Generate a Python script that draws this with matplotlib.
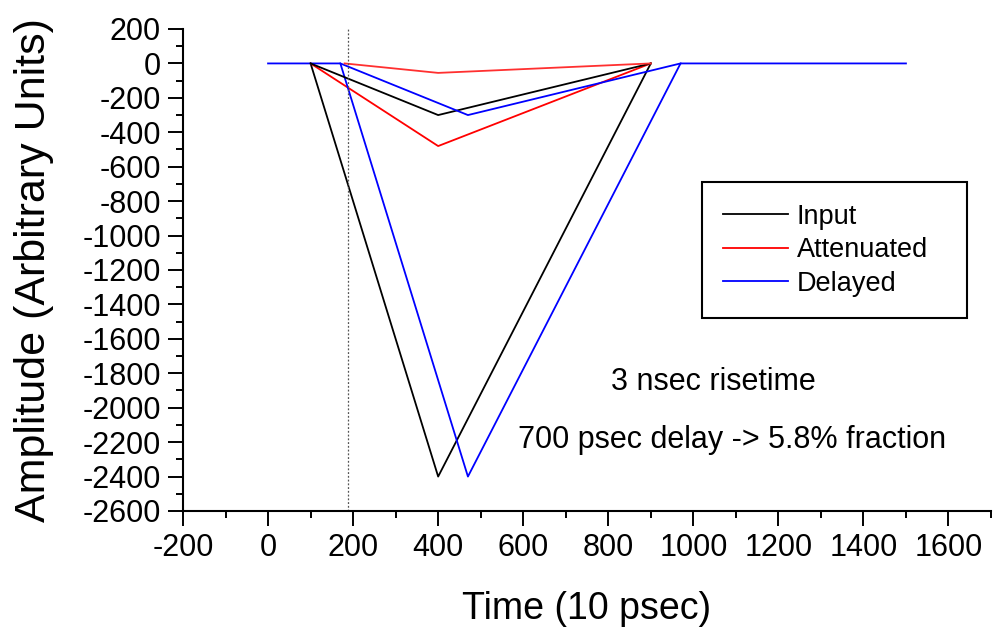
import numpy as np
import matplotlib.pyplot as plt
from matplotlib.ticker import MultipleLocator

plt.rcParams['font.family'] = ['Liberation Sans', 'DejaVu Sans']
plt.rcParams['axes.unicode_minus'] = False

# --- data (time in units of 10 psec) ---
input_t = [100, 400, 900]
input_amp = [0, -2400, 0]
input_small_t = [100, 400, 900]
input_small_amp = [0, -300, 0]

atten_t = [100, 400, 900]
atten_amp = [0, -480, 0]
atten_small_t = [180, 400, 900]
atten_small_amp = [0, -55, 0]

delayed_t = [0, 170, 470, 970, 1500]
delayed_amp = [0, 0, -2400, 0, 0]
delayed_small_t = [170, 470, 970]
delayed_small_amp = [0, -300, 0]

marker_t = 187

fig = plt.figure(figsize=(9.95, 6.38), dpi=100)
ax = fig.add_axes([183 / 995, 127 / 638, 808 / 995, 482 / 638])

lw = 1.3
ax.plot(input_t, input_amp, color='black', lw=lw, label='Input')
ax.plot(atten_t, atten_amp, color='#ff0000', lw=lw, label='Attenuated')
ax.plot(delayed_t, delayed_amp, color='#0000ff', lw=lw, label='Delayed')
ax.plot(input_small_t, input_small_amp, color='black', lw=lw)
ax.plot(delayed_small_t, delayed_small_amp, color='#0000ff', lw=lw)
ax.plot(atten_small_t, atten_small_amp, color='#ff3030', lw=lw)
ax.axvline(marker_t, color='#555555', lw=0.9, ls=(0, (1.5, 1.5)))

ax.set_xlim(-200, 1700)
ax.set_ylim(-2600, 200)
ax.xaxis.set_major_locator(MultipleLocator(200))
ax.xaxis.set_minor_locator(MultipleLocator(100))
ax.yaxis.set_major_locator(MultipleLocator(200))
ax.yaxis.set_minor_locator(MultipleLocator(100))

for s in ['top', 'right']:
    ax.spines[s].set_visible(False)
for s in ['left', 'bottom']:
    ax.spines[s].set_linewidth(1.5)

ax.tick_params(which='major', length=11, width=1.4, labelsize=22, pad=5)
ax.tick_params(which='minor', length=5, width=1.4)

ax.set_xlabel('Time (10 psec)', fontsize=27, labelpad=20)
ax.set_ylabel('Amplitude (Arbitrary Units)', fontsize=31, labelpad=20)

ax.text(1047, -1851, '3 nsec risetime', fontsize=22, ha='center', va='center')
ax.text(1092, -2190, '700 psec delay -> 5.8% fraction', fontsize=22,
        ha='center', va='center')

leg = ax.legend(loc='upper left', bbox_to_anchor=(0.642, 0.4066, 0.328, 0.276),
                mode='expand', borderaxespad=0, fontsize=19.5, fancybox=False,
                edgecolor='black', framealpha=1, handlelength=2.4,
                handletextpad=0.3, labelspacing=0.28, borderpad=0.8)
leg.get_frame().set_linewidth(1.5)
leg._legend_box.align = 'left'

fig.savefig('out.png', dpi=100)
